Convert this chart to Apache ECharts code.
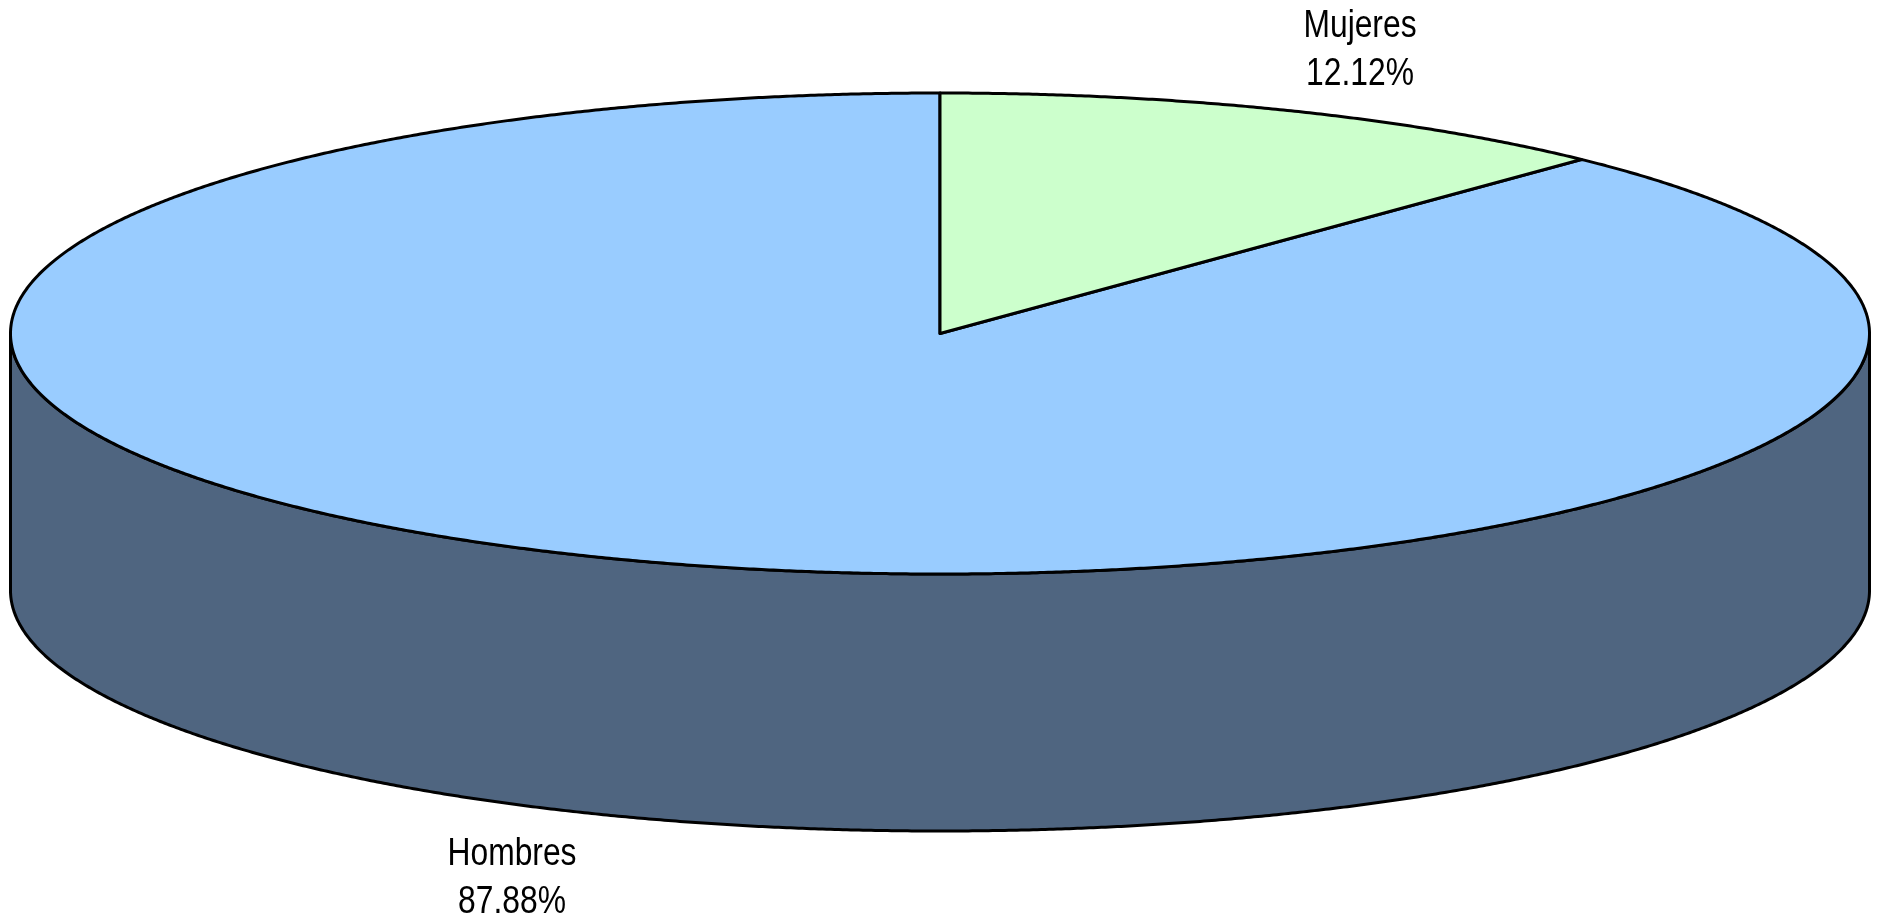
<!DOCTYPE html>
<html>
<head>
<meta charset="utf-8">
<style>html,body{margin:0;padding:0;background:#fff}#c{width:1881px;height:919px}</style>
<script src="https://cdn.jsdelivr.net/npm/echarts@6/dist/echarts.min.js"></script>
</head>
<body>
<div id="c"></div>
<script>
const categories = ['Mujeres', 'Hombres'];
const shares = [12.12, 87.88];
const topColors = ['#CCFFCC', '#99CCFF'];
const wallColor = '#4F6580';
const labelCenters = [[1360, 26.5], [512, 854.5]];

const CX = 940, CY = 333.5, RX = 929.5, RY = 240.5, DEPTH = 257;
const total = shares.reduce((a, b) => a + b, 0);
const chart = echarts.init(document.getElementById('c'), null, {renderer: 'canvas'});

function rim(deg, dy) {
  const r = deg * Math.PI / 180;
  return [CX + RX * Math.sin(r), CY + dy - RY * Math.cos(r)];
}
function arc(from, to, dy) {
  const pts = [], n = Math.max(1, Math.ceil(Math.abs(to - from) * 4));
  for (let i = 0; i <= n; i++) pts.push(rim(from + (to - from) * i / n, dy));
  return pts;
}
const edge = {stroke: '#000', lineWidth: 3, lineJoin: 'round'};
const labelFont = '39px "Liberation Sans", Arial, sans-serif';

function label(text, x, y) {
  return {type: 'text', z2: 5, x, y, scaleX: 0.815,
    style: {x: 0, y: 0, text, font: labelFont, fill: '#000',
      textAlign: 'center', textVerticalAlign: 'middle'}};
}

function renderItem(params, api) {
  const i = params.dataIndex;
  const before = shares.slice(0, i).reduce((a, b) => a + b, 0);
  const start = before / total * 360, end = (before + api.value(0)) / total * 360;
  const children = [];
  const a = Math.max(start, 90), b = Math.min(end, 270);
  if (b > a) {
    children.push({type: 'polygon', z2: 1,
      shape: {points: arc(a, b, 0).concat(arc(b, a, DEPTH))},
      style: Object.assign({fill: wallColor}, edge)});
  }
  children.push({type: 'polygon', z2: 2 + (i === 0 ? 1 : 0),
    shape: {points: [[CX, CY]].concat(arc(start, end, 0))},
    style: Object.assign({fill: topColors[i]}, edge)});
  const [lx, ly] = labelCenters[i];
  children.push(label(categories[i], lx, ly));
  children.push(label(api.value(0).toFixed(2) + '%', lx, ly + 48));
  return {type: 'group', children};
}

chart.setOption({
  animation: false,
  backgroundColor: '#fff',
  series: [{
    type: 'custom',
    coordinateSystem: 'none',
    renderItem,
    data: shares.map((v, i) => ({name: categories[i], value: [v]}))
  }]
});
</script>
</body>
</html>
